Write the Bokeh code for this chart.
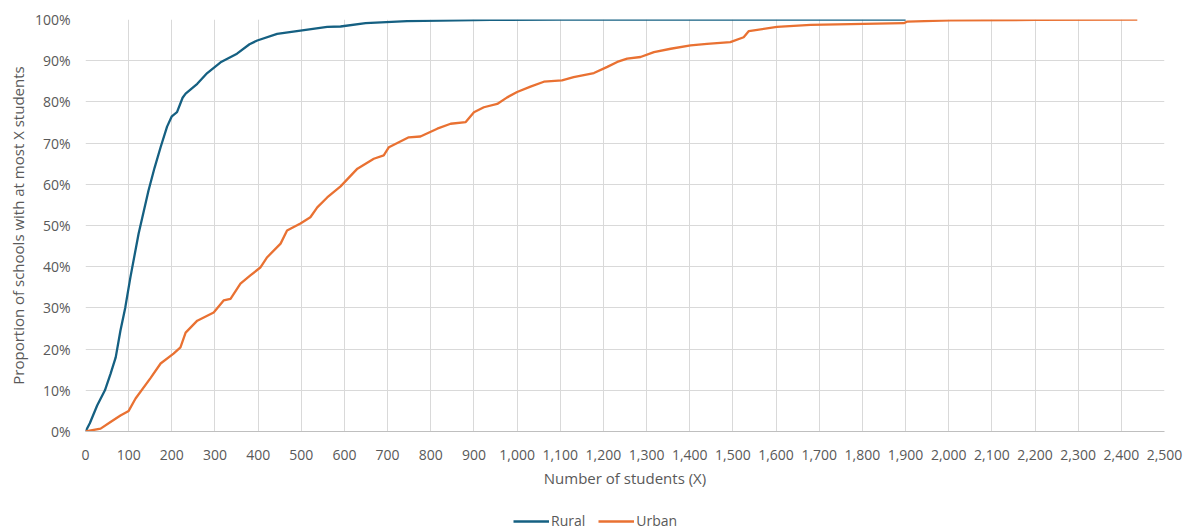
from bokeh.plotting import figure
from bokeh.layouts import column
from bokeh.models import (Legend, LegendItem, NumeralTickFormatter,
                          SingleIntervalTicker, Range1d)
from bokeh.embed import file_html
from bokeh.resources import INLINE

# Number of students (X) and cumulative share of schools (%)
rural_x = [0, 10, 27, 45, 58, 70, 81, 92, 104, 123, 146, 160, 174, 189, 200,
           212, 225, 232, 259, 282, 313, 351, 380, 398, 444, 498, 560, 591,
           649, 745, 938, 1100, 1900]
rural_y = [0, 2, 6.3, 10, 14, 18, 24.5, 30, 37.4, 48, 58.5, 64, 69, 74, 76.5,
           77.5, 81, 82, 84.4, 87, 89.6, 91.7, 94, 94.9, 96.5, 97.3, 98.2, 98.3,
           99.1, 99.6, 99.9, 100, 100]

urban_x = [0, 35, 58, 81, 100, 116, 151, 174, 204, 220, 232, 259, 297, 320, 336,
           359, 382, 405, 421, 452, 467, 498, 521, 537, 560, 591, 630, 668, 691,
           703, 726, 749, 776, 815, 846, 881, 900, 923, 954, 977, 1000, 1031,
           1062, 1104, 1131, 1178, 1209, 1232, 1255, 1286, 1317, 1356, 1402,
           1440, 1494, 1525, 1537, 1602, 1680, 1896, 1904, 2004, 2200, 2437]
urban_y = [0, 0.7, 2.3, 3.9, 5, 8, 13, 16.5, 18.9, 20.4, 24, 26.9, 28.9, 31.8,
           32.2, 35.9, 37.9, 39.8, 42.3, 45.6, 48.8, 50.5, 52, 54.4, 56.8, 59.5,
           63.8, 66.2, 67, 69, 70.2, 71.4, 71.6, 73.5, 74.7, 75.1, 77.5, 78.7,
           79.5, 81.1, 82.4, 83.7, 84.9, 85.2, 86, 87, 88.5, 89.7, 90.5, 90.9,
           92.1, 92.9, 93.7, 94.1, 94.5, 95.7, 97.2, 98.2, 98.7, 99.1, 99.5,
           99.8, 99.9, 100]

series_names = ["Rural", "Urban"]
series_colors = ["#156082", "#E97132"]

FONT = "Open Sans"
TXT = "#595959"
GRID = "#d9d9d9"
LW = 2.3

p = figure(width=1184, height=497,
           x_range=Range1d(0, 2500), y_range=Range1d(0, 1),
           output_backend="svg", toolbar_location=None,
           min_border_left=85, min_border_right=20, min_border_top=19,
           min_border_bottom=66, outline_line_color=None,
           background_fill_color="white", border_fill_color="white")

p.line(rural_x, [y / 100 for y in rural_y],
       line_color=series_colors[0], line_width=LW)
p.line(urban_x, [y / 100 for y in urban_y],
       line_color=series_colors[1], line_width=LW)

# axes
p.xaxis.ticker = SingleIntervalTicker(interval=100)
p.yaxis.ticker = SingleIntervalTicker(interval=0.1)
p.xaxis.formatter = NumeralTickFormatter(format="0,0")
p.yaxis.formatter = NumeralTickFormatter(format="0%")

for ax in (p.xaxis[0], p.yaxis[0]):
    ax.major_tick_line_color = None
    ax.minor_tick_line_color = None
    ax.major_tick_out = 0
    ax.major_tick_in = 0
    ax.minor_tick_out = 0
    ax.minor_tick_in = 0
    ax.major_label_text_font = FONT
    ax.major_label_text_font_size = "14px"
    ax.major_label_text_color = TXT
    ax.axis_label_text_font = FONT
    ax.axis_label_text_color = TXT
    ax.axis_label_text_font_style = "normal"
    ax.axis_label_text_font_size = "15px"

p.xaxis.axis_line_color = "#bfbfbf"
p.yaxis.axis_line_color = None
p.xaxis.axis_label = "Number of students (X)"
p.yaxis.axis_label = "Proportion of schools with at most X students"
p.xaxis.major_label_standoff = 18
p.xaxis.axis_label_standoff = 5
p.yaxis.major_label_standoff = 15
p.yaxis.axis_label_standoff = 4

p.xgrid.grid_line_color = GRID
p.ygrid.grid_line_color = GRID
p.xgrid.grid_line_width = 1
p.ygrid.grid_line_width = 1

# legend strip below the chart (its frame is aligned with the chart frame)
lg = figure(width=1184, height=34, x_range=Range1d(0, 1), y_range=Range1d(0, 1),
            output_backend="svg", toolbar_location=None,
            x_axis_location=None, y_axis_location=None,
            min_border=0, outline_line_color=None,
            background_fill_color="white", border_fill_color="white")
lg.grid.visible = False
k1 = lg.line([0], [0], line_color=series_colors[0], line_width=LW)
k2 = lg.line([0], [0], line_color=series_colors[1], line_width=LW)
legend = Legend(items=[LegendItem(label=series_names[0], renderers=[k1]),
                       LegendItem(label=series_names[1], renderers=[k2])],
                orientation="horizontal", location=(428, 1),
                label_text_font=FONT, label_text_font_size="14px",
                label_text_color=TXT, glyph_width=36, glyph_height=14,
                label_height=16, label_standoff=2, spacing=13, padding=0,
                margin=0, border_line_color=None, background_fill_alpha=0)
lg.add_layout(legend, "center")

open("out.html", "w").write(file_html(column(p, lg, spacing=0), INLINE))
